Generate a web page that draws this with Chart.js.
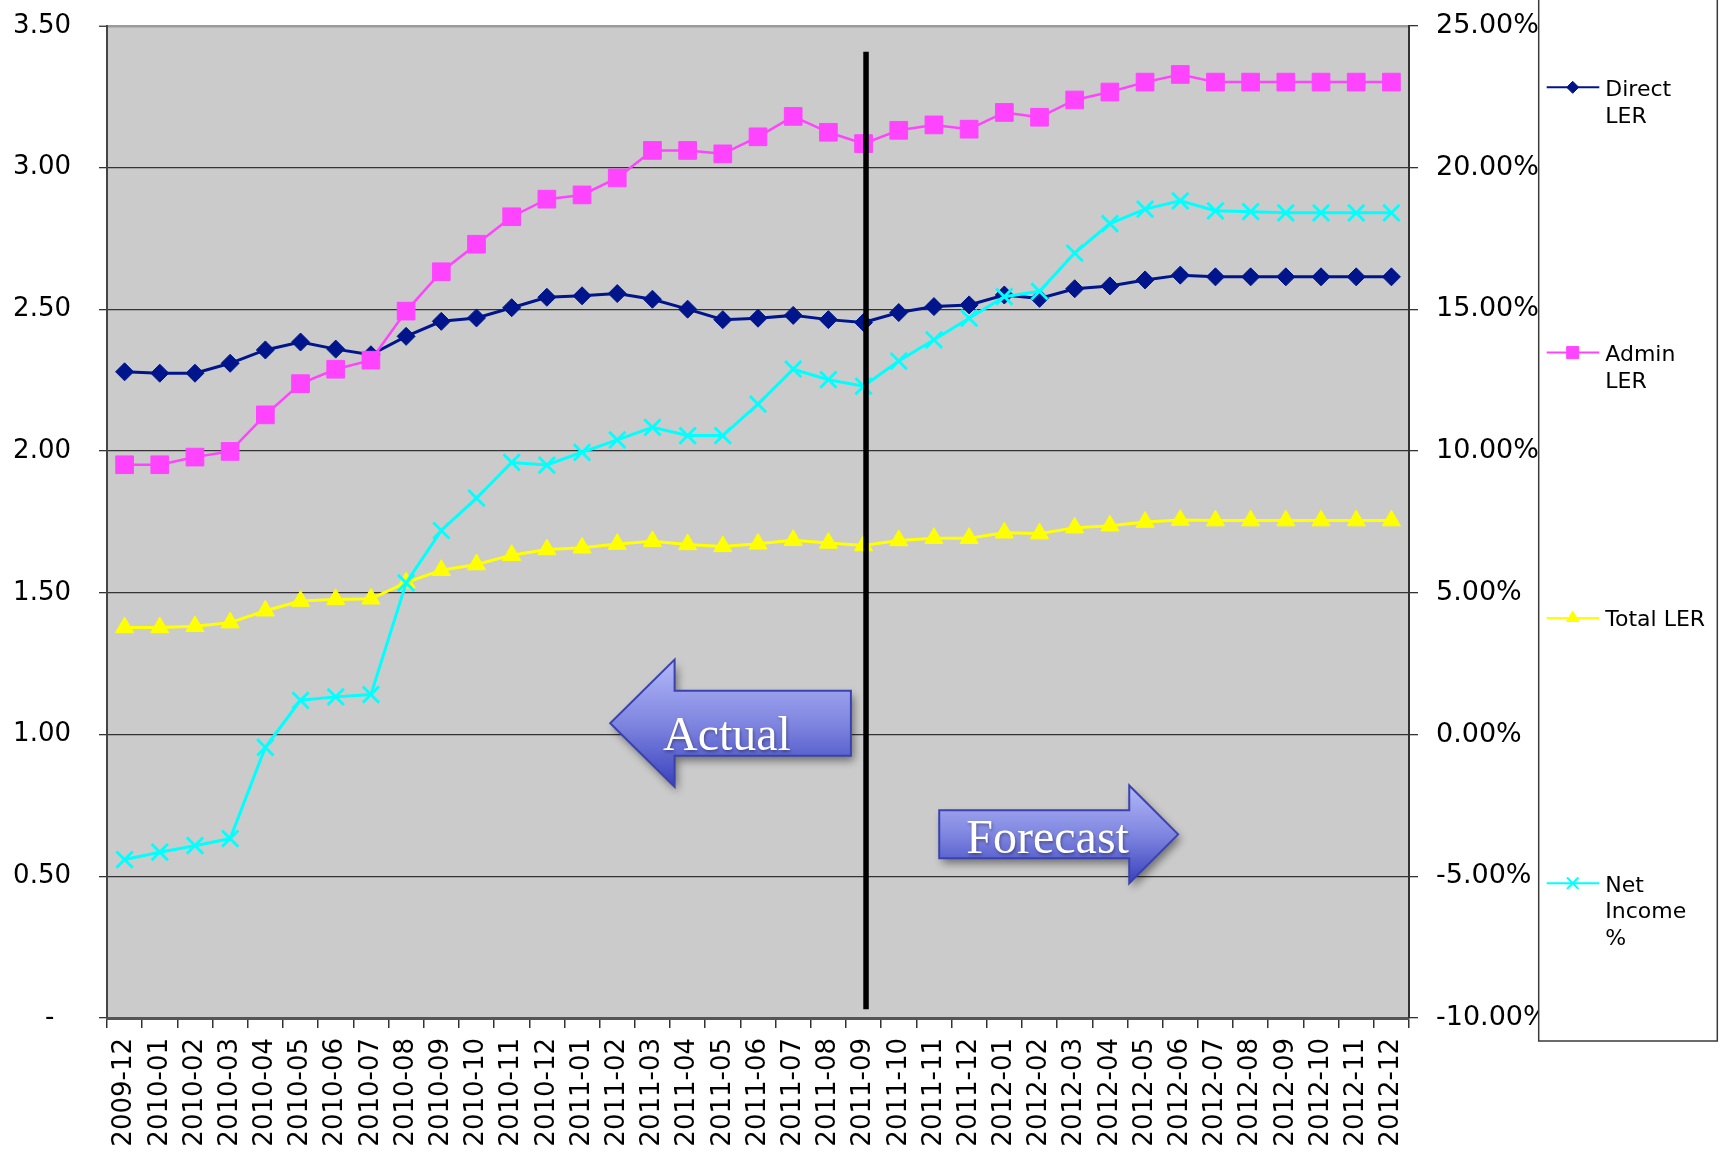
<!DOCTYPE html>
<html>
<head>
<meta charset="utf-8">
<script src="https://cdn.jsdelivr.net/npm/chart.js@4/dist/chart.umd.min.js"></script>
<style>
html,body{margin:0;padding:0;background:#fff;}
#wrap{width:1722px;height:1159px;position:relative;overflow:hidden;}
canvas{display:block;}
</style>
</head>
<body>
<div id="wrap"><canvas id="c" width="1722" height="1159" style="width:1722px;height:1159px"></canvas></div>
<script>
// ---------- DATA ----------
const categories = [
  '2009-12',
  '2010-01','2010-02','2010-03','2010-04','2010-05','2010-06','2010-07','2010-08','2010-09','2010-10','2010-11','2010-12',
  '2011-01','2011-02','2011-03','2011-04','2011-05','2011-06','2011-07','2011-08','2011-09','2011-10','2011-11','2011-12',
  '2012-01','2012-02','2012-03','2012-04','2012-05','2012-06','2012-07','2012-08','2012-09','2012-10','2012-11','2012-12'
];
const seriesNames = ['Direct LER', 'Admin LER', 'Total LER', 'Net Income %'];
const directLER = [
  2.280, 2.275, 2.275, 2.310, 2.357, 2.385, 2.360, 2.340, 2.405, 2.458, 2.470, 2.506, 2.543,
  2.548, 2.556, 2.536, 2.501, 2.464, 2.469, 2.479, 2.464, 2.454, 2.489, 2.510, 2.516,
  2.551, 2.539, 2.573, 2.583, 2.604, 2.621, 2.615, 2.615, 2.615, 2.615, 2.615, 2.615
];
const adminLER = [
  1.952, 1.952, 1.979, 1.999, 2.128, 2.238, 2.289, 2.321, 2.494, 2.633, 2.730, 2.827, 2.889,
  2.904, 2.964, 3.061, 3.061, 3.049, 3.109, 3.181, 3.125, 3.085, 3.132, 3.151, 3.136,
  3.195, 3.178, 3.239, 3.267, 3.302, 3.329, 3.302, 3.302, 3.302, 3.302, 3.302, 3.302
];
const totalLER = [
  1.378, 1.378, 1.382, 1.395, 1.437, 1.471, 1.477, 1.479, 1.536, 1.580, 1.600, 1.633, 1.653,
  1.659, 1.672, 1.682, 1.671, 1.664, 1.673, 1.686, 1.676, 1.667, 1.685, 1.693, 1.693,
  1.712, 1.709, 1.730, 1.737, 1.750, 1.757, 1.755, 1.755, 1.755, 1.755, 1.755, 1.755
];
const netIncomePct = [
  -4.41, -4.15, -3.92, -3.67, -0.45, 1.21, 1.33, 1.41, 5.35, 7.20, 8.34, 9.60, 9.51,
  9.96, 10.40, 10.84, 10.55, 10.55, 11.66, 12.89, 12.52, 12.29, 13.18, 13.93, 14.69,
  15.45, 15.64, 16.99, 18.03, 18.54, 18.83, 18.48, 18.45, 18.41, 18.41, 18.41, 18.41
];
const leftTicks = { min: 0, max: 3.5, step: 0.5 };
const rightTicks = { min: -10, max: 25, step: 5 };
const dividerCategory = '2011-09';
const arrowLabels = ['Actual', 'Forecast'];

// ---------- LAYOUT / STYLE ----------
const W = 1722, H = 1159;
const PLOT = { left: 107, right: 1409, top: 26, bottom: 1018 };
const FONT = '"DejaVu Sans", Verdana, sans-serif';
const SERIF = '"Liberation Serif", "Times New Roman", serif';
const styles = [
  { color: '#00158c', point: 'rectRot', r: 9, lw: 3, bw: 1, legR: 6 },
  { color: '#ff44ff', point: 'rect', r: 12.5, lw: 2.5, bw: 1, legR: 8.5 },
  { color: '#ffff00', point: 'triangle', r: 10.5, lw: 3, bw: 1, legR: 7 },
  { color: '#00ffff', point: 'crossRot', r: 11.5, lw: 3, bw: 2.8, legR: 8 }
];
const seriesData = [directLER, adminLER, totalLER, netIncomePct];
const seriesAxis = ['y', 'y', 'y', 'y2'];

const datasets = seriesNames.map((name, i) => ({
  label: name,
  data: seriesData[i],
  yAxisID: seriesAxis[i],
  borderColor: styles[i].color,
  backgroundColor: styles[i].color,
  pointBackgroundColor: styles[i].color,
  pointBorderColor: styles[i].color,
  borderWidth: styles[i].lw,
  pointStyle: styles[i].point,
  pointRadius: styles[i].r,
  pointBorderWidth: styles[i].bw,
  tension: 0,
  fill: false,
  order: seriesNames.length - i
}));

// annotation shapes, placed in data space (category index, left-axis value)
const divider = { offset: 0.07, yFrom: 3.409, yTo: 0.031, width: 5.5 };
const arrowShapes = [
  { text: arrowLabels[0], tip: 13.80, neck: 15.63, tail: 20.64, mid: 1.040, headHalf: 0.2244, bodyHalf: 0.1147, textX: 15.30, textY: 0.945 },
  { text: arrowLabels[1], tip: 29.94, neck: 28.55, tail: 23.15, mid: 0.648, headHalf: 0.1725, bodyHalf: 0.0847, textX: 23.92, textY: 0.581 }
];
const LEG = { x: 1538.7, y: -10, w: 178.6, h: 1051, firstY: 87.3, gap: 265.3, lineX0: 8, lineX1: 60.6, markX: 34, textX: 66.6, lineH: 26.7, maxW: 106, font: 22 };

// ---------- PLUGINS ----------
const bgPlugin = {
  id: 'bg',
  beforeDraw(chart) {
    const { ctx, chartArea: a } = chart;
    ctx.save();
    ctx.fillStyle = '#fff';
    ctx.fillRect(0, 0, chart.width, chart.height);
    ctx.fillStyle = '#cbcbcb';
    ctx.fillRect(a.left, a.top, a.right - a.left, a.bottom - a.top);
    ctx.restore();
  }
};

const annotPlugin = {
  id: 'annot',
  afterDatasetsDraw(chart) {
    const ctx = chart.ctx;
    const xs = chart.scales.x, ys = chart.scales.y;
    const dIdx = categories.indexOf(dividerCategory) + divider.offset;
    const dx = xs.getPixelForValue(dIdx);
    ctx.save();
    ctx.strokeStyle = '#000';
    ctx.lineWidth = divider.width;
    ctx.beginPath();
    ctx.moveTo(dx, ys.getPixelForValue(divider.yFrom));
    ctx.lineTo(dx, ys.getPixelForValue(divider.yTo));
    ctx.stroke();
    ctx.restore();

    arrowShapes.forEach(a => {
      const tipX = xs.getPixelForValue(a.tip);
      const neckX = xs.getPixelForValue(a.neck);
      const tailX = xs.getPixelForValue(a.tail);
      const cy = ys.getPixelForValue(a.mid);
      const hTop = ys.getPixelForValue(a.mid + a.headHalf);
      const hBot = ys.getPixelForValue(a.mid - a.headHalf);
      const bTop = ys.getPixelForValue(a.mid + a.bodyHalf);
      const bBot = ys.getPixelForValue(a.mid - a.bodyHalf);
      const path = () => {
        ctx.beginPath();
        ctx.moveTo(tipX, cy);
        ctx.lineTo(neckX, hTop);
        ctx.lineTo(neckX, bTop);
        ctx.lineTo(tailX, bTop);
        ctx.lineTo(tailX, bBot);
        ctx.lineTo(neckX, bBot);
        ctx.lineTo(neckX, hBot);
        ctx.closePath();
      };
      ctx.save();
      const g = ctx.createLinearGradient(0, hTop, 0, hBot);
      g.addColorStop(0, '#b3b8f8');
      g.addColorStop(0.5, '#7f86e0');
      g.addColorStop(1, '#3a41bd');
      path();
      ctx.shadowColor = 'rgba(0,0,0,0.45)';
      ctx.shadowBlur = 8;
      ctx.shadowOffsetX = 3;
      ctx.shadowOffsetY = 5;
      ctx.fillStyle = g;
      ctx.fill();
      ctx.shadowColor = 'transparent';
      ctx.strokeStyle = '#3a43ad';
      ctx.lineWidth = 2;
      ctx.lineJoin = 'miter';
      path();
      ctx.stroke();
      ctx.font = '48px ' + SERIF;
      ctx.fillStyle = '#fff';
      ctx.textAlign = 'left';
      ctx.textBaseline = 'alphabetic';
      ctx.shadowColor = 'rgba(0,0,0,0.35)';
      ctx.shadowBlur = 3;
      ctx.shadowOffsetX = 1;
      ctx.shadowOffsetY = 2;
      ctx.fillText(a.text, xs.getPixelForValue(a.textX), ys.getPixelForValue(a.textY));
      ctx.restore();
    });
  }
};

function wrapWords(ctx, text, maxW) {
  const words = text.split(' ');
  const lines = [];
  let cur = '';
  words.forEach(w => {
    const test = cur ? cur + ' ' + w : w;
    if (cur && ctx.measureText(test).width > maxW) { lines.push(cur); cur = w; }
    else cur = test;
  });
  if (cur) lines.push(cur);
  return lines;
}

const legendPlugin = {
  id: 'boxLegend',
  afterDraw(chart) {
    const ctx = chart.ctx;
    ctx.save();
    ctx.fillStyle = '#fff';
    ctx.fillRect(LEG.x, LEG.y, LEG.w, LEG.h);
    ctx.strokeStyle = '#3a3a3a';
    ctx.lineWidth = 1.5;
    ctx.strokeRect(LEG.x, LEG.y, LEG.w, LEG.h);
    ctx.font = LEG.font + 'px ' + FONT;
    chart.data.datasets.forEach((ds, i) => {
      const cy = LEG.firstY + i * LEG.gap;
      const st = styles[i];
      ctx.strokeStyle = st.color;
      ctx.lineWidth = 2;
      ctx.beginPath();
      ctx.moveTo(LEG.x + LEG.lineX0, cy);
      ctx.lineTo(LEG.x + LEG.lineX1, cy);
      ctx.stroke();
      ctx.fillStyle = st.color;
      ctx.strokeStyle = st.color;
      ctx.lineWidth = st.point === 'crossRot' ? 2 : 1;
      Chart.helpers.drawPoint(ctx, { pointStyle: st.point, radius: st.legR, borderWidth: ctx.lineWidth, rotation: 0 }, LEG.x + LEG.markX, cy);
      ctx.fillStyle = '#000';
      ctx.textAlign = 'left';
      ctx.textBaseline = 'alphabetic';
      const lines = wrapWords(ctx, ds.label, LEG.maxW);
      lines.forEach((ln, k) => ctx.fillText(ln, LEG.x + LEG.textX, cy + 8.5 + k * LEG.lineH));
    });
    ctx.restore();
  }
};

const noPad = s => { s.paddingTop = 0; s.paddingBottom = 0; s.paddingLeft = 0; s.paddingRight = 0; };

// ---------- CHART ----------
new Chart(document.getElementById('c'), {
  type: 'line',
  data: { labels: categories, datasets },
  options: {
    responsive: false,
    devicePixelRatio: 1,
    animation: false,
    layout: { padding: { top: PLOT.top, left: 0, right: 0, bottom: 0 } },
    plugins: { legend: { display: false }, tooltip: { enabled: false } },
    scales: {
      x: {
        type: 'category',
        offset: true,
        grid: { offset: true, drawOnChartArea: false, drawTicks: true, tickLength: 10, tickColor: '#333', lineWidth: 1.5 },
        border: { display: true, color: '#555', width: 3 },
        ticks: { autoSkip: false, minRotation: 90, maxRotation: 90, padding: 10, color: '#000', font: { family: FONT, size: 26 } },
        afterFit: s => { s.height = H - PLOT.bottom; noPad(s); }
      },
      y: {
        position: 'left',
        min: leftTicks.min, max: leftTicks.max,
        ticks: {
          stepSize: leftTicks.step, padding: 28, color: '#000',
          font: { family: FONT, size: 26 },
          callback: v => (Math.abs(v) < 1e-9 ? '-  ' : Number(v).toFixed(2))
        },
        grid: {
          color: c => (c.tick && Math.abs(c.tick.value - leftTicks.max) < 1e-9 ? '#9a9a9a' : '#333'),
          lineWidth: c => (c.tick && Math.abs(c.tick.value - leftTicks.max) < 1e-9 ? 2.5 : 1.3),
          tickLength: 8, tickColor: '#333', tickWidth: 1.3
        },
        border: { display: true, color: '#444', width: 2 },
        afterFit: s => { s.width = PLOT.left; noPad(s); }
      },
      y2: {
        position: 'right',
        min: rightTicks.min, max: rightTicks.max,
        ticks: {
          stepSize: rightTicks.step, padding: 18, color: '#000',
          font: { family: FONT, size: 27 },
          callback: v => Number(v).toFixed(2) + '%'
        },
        grid: { drawOnChartArea: false, tickLength: 9, color: '#333', lineWidth: 1.3 },
        border: { display: true, color: '#333', width: 2 },
        afterFit: s => { s.width = W - PLOT.right; noPad(s); }
      }
    }
  },
  plugins: [bgPlugin, annotPlugin, legendPlugin]
});
</script>
</body>
</html>
